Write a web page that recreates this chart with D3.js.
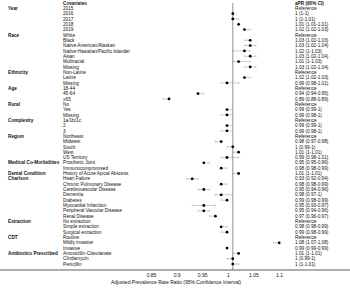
<!DOCTYPE html>
<html>
<head>
<meta charset="utf-8">
<script src="https://cdn.jsdelivr.net/npm/d3@7"></script>
<style>
  body { margin: 0; background: #fff; }
  svg { display: block; }
  text { font-family: "Liberation Sans", Arial, sans-serif; fill: #111; }
</style>
</head>
<body>
<svg id="chart" width="350" height="290"></svg>
<script>
// rows of the forest plot
const covariates = ["2015", "2016", "2017", "2018", "2019",
    "White", "Black", "Native American/Alaskan", "Native Hawaiian/Pacific Islander", "Asian", "Multiracial", "Missing",
    "Non-Latine", "Latine", "Missing",
    "18-44", "45-64", "\u226565",
    "No", "Yes", "Missing",
    "1a/1b/1c", "2", "3",
    "Northeast", "Midwest", "South", "West", "US Territory",
    "Prosthetic Joint", "Immunocompromised",
    "History of Acute Apical Abscess",
    "Heart Failure", "Chronic Pulmonary Disease", "Cerebrovascular Disease", "Dementia", "Diabetes",
    "Myocardial Infarction", "Peripheral Vascular Disease", "Renal Disease",
    "No extraction", "Simple extraction", "Surgical extraction",
    "Routine", "Mildly invasive", "Invasive",
    "Amoxicillin-Clavulanate", "Clindamycin", "Penicillin"];

// group names and the row each one starts on
const groupNames = ["Year", "Race", "Ethnicity", "Age", "Rural", "Complexity", "Region",
    "Medical Co-Morbidities", "Dental Condition", "Charlson", "Extraction", "CDT", "Antibiotics Prescribed"];
const groupRows = [0, 5, 12, 15, 18, 21, 24, 29, 31, 32, 40, 43, 46];

// null = reference category
const aPR = [null, 1, 1, 1.01, 1.02,
    null, 1.03, 1.03, 1.02, 1.03, 1.01, 1.03,
    null, 1.02, 0.99,
    null, 0.94, 0.89,
    null, 0.99, 0.99,
    null, 0.99, 0.99,
    null, 0.98, 1, 1.01, 0.99,
    0.95, 0.98, 1.01,
    0.93, 0.98, 0.95, 0.98, 0.99, 0.95, 0.95, 0.97,
    null, 0.98, 0.99,
    null, 1.08, 0.99,
    1.01, 1, 1];
const ciLow = [null, 1, 1, 1.01, 1.02,
    null, 1.02, 1.02, 1, 1.02, 1, 1.02,
    null, 1.02, 0.98,
    null, 0.94, 0.88,
    null, 0.99, 0.98,
    null, 0.99, 0.98,
    null, 0.97, 0.99, 1, 0.98,
    0.95, 0.98, 1,
    0.92, 0.98, 0.94, 0.97, 0.98, 0.93, 0.94, 0.96,
    null, 0.98, 0.98,
    null, 1.07, 0.99,
    1, 0.99, 1];
const ciHigh = [null, 1, 1.01, 1.01, 1.03,
    null, 1.03, 1.04, 1.03, 1.04, 1.03, 1.04,
    null, 1.03, 1.01,
    null, 0.95, 0.89,
    null, 1, 1,
    null, 1, 1,
    null, 0.98, 1, 1.01, 1.01,
    0.96, 0.99, 1.01,
    0.94, 0.99, 0.96, 1, 0.99, 0.97, 0.96, 0.97,
    null, 0.99, 0.99,
    null, 1.08, 0.99,
    1.01, 1, 1.01];

const xTicks = [0.85, 0.9, 0.95, 1, 1.05, 1.1];

const svg = d3.select("#chart");
const W = 350, H = 290;

const data = covariates.map((c, i) => ({
    label: c, est: aPR[i], lo: ciLow[i], hi: ciHigh[i], i: i,
    text: aPR[i] === null ? "Reference" : `${aPR[i]} (${ciLow[i]}-${ciHigh[i]})`
}));

// scales
const y = d3.scaleLinear().domain([0, covariates.length - 1]).range([8.3, 264.1]);
const x = d3.scaleLinear().domain([0.89, 1.08]).range([169, 279.2]);
// the printed axis labels sit on their own spacing in the original
const xLab = d3.scaleLinear().domain([0.85, 1.1]).range([151, 279]);

const fs = 4.7;
const labelX = 63, groupX = 8, textX = 295;

// header
svg.append("text").attr("x", labelX).attr("y", y(-1)).attr("dy", "0.35em")
    .style("font-size", fs + "px").style("font-weight", "bold").text("Covariates");
svg.append("text").attr("x", textX).attr("y", y(-1)).attr("dy", "0.35em")
    .style("font-size", fs + "px").style("font-weight", "bold").text("aPR (95% CI)");

// group labels
svg.selectAll(".group").data(groupNames).join("text")
    .attr("class", "group")
    .attr("x", groupX)
    .attr("y", (d, i) => y(groupRows[i]))
    .attr("dy", "0.35em")
    .style("font-size", fs + "px").style("font-weight", "bold")
    .text(d => d);

// covariate labels
svg.selectAll(".cov").data(data).join("text")
    .attr("class", "cov")
    .attr("x", labelX)
    .attr("y", d => y(d.i))
    .attr("dy", "0.35em")
    .style("font-size", fs + "px")
    .text(d => d.label);

// estimate text
svg.selectAll(".est").data(data).join("text")
    .attr("class", "est")
    .attr("x", textX)
    .attr("y", d => y(d.i))
    .attr("dy", "0.35em")
    .style("font-size", fs + "px")
    .text(d => d.text);

// reference line at 1
svg.append("line")
    .attr("x1", x(1)).attr("x2", x(1))
    .attr("y1", 3).attr("y2", 270)
    .attr("stroke", "#777").attr("stroke-width", 0.8);

// CI whiskers + points
const rows = svg.selectAll(".row").data(data.filter(d => d.est !== null))
    .join("g").attr("class", "row");
rows.append("line")
    .attr("x1", d => x(d.lo)).attr("x2", d => x(d.hi))
    .attr("y1", d => y(d.i)).attr("y2", d => y(d.i))
    .attr("stroke", "#999").attr("stroke-width", 0.5);
rows.append("line")
    .attr("x1", d => x(d.lo)).attr("x2", d => x(d.lo))
    .attr("y1", d => y(d.i) - 1).attr("y2", d => y(d.i) + 1)
    .attr("stroke", "#999").attr("stroke-width", 0.5);
rows.append("line")
    .attr("x1", d => x(d.hi)).attr("x2", d => x(d.hi))
    .attr("y1", d => y(d.i) - 1).attr("y2", d => y(d.i) + 1)
    .attr("stroke", "#999").attr("stroke-width", 0.5);
rows.append("circle")
    .attr("cx", d => x(d.est)).attr("cy", d => y(d.i))
    .attr("r", 1.4).attr("fill", "#000");

// bottom rule
svg.append("line")
    .attr("x1", 0).attr("x2", W)
    .attr("y1", 270).attr("y2", 270)
    .attr("stroke", "#333").attr("stroke-width", 0.8);

// axis tick labels
const xAxis = d3.axisBottom(xLab).tickValues(xTicks).tickSize(0).tickPadding(3)
    .tickFormat(d => d3.format("")(d));
const gAxis = svg.append("g").attr("transform", "translate(0,270)").call(xAxis);
gAxis.select(".domain").remove();
gAxis.selectAll("text").style("font-size", "5px")
    .style("font-family", "Liberation Sans, Arial, sans-serif").attr("fill", "#111");

svg.append("text")
    .attr("x", 176).attr("y", 284)
    .attr("text-anchor", "middle")
    .style("font-size", "5px")
    .text("Adjusted Prevalence Rate Ratio (95% Confidence Interval)");
</script>
</body>
</html>
